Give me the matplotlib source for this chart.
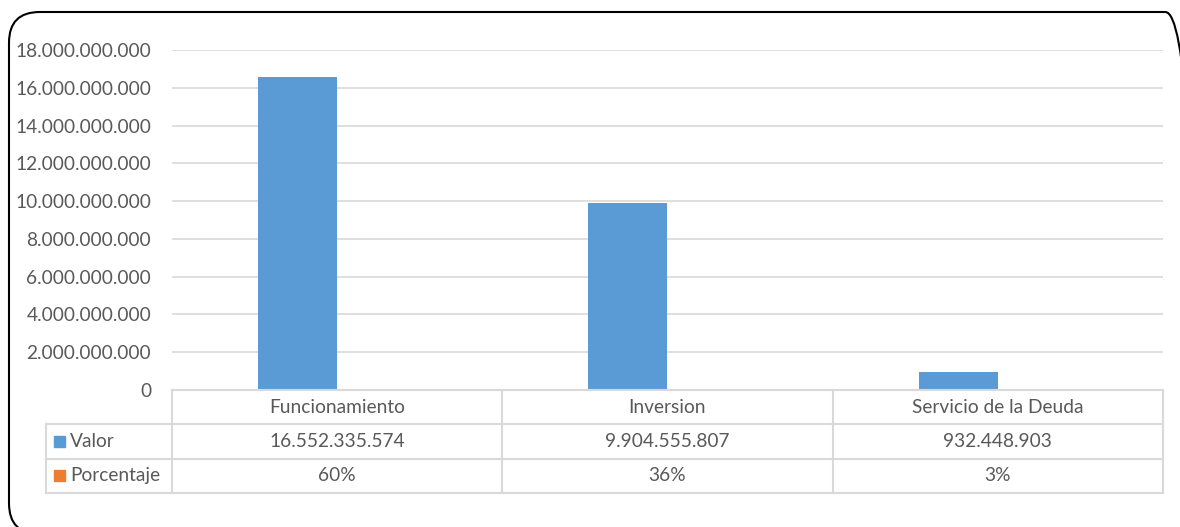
import matplotlib
matplotlib.use("Agg")
import matplotlib.pyplot as plt
from matplotlib.patches import FancyBboxPatch, Rectangle
import numpy as np

categories = ["Funcionamiento", "Inversion", "Servicio de la Deuda"]
valor = [16552335574, 9904555807, 932448903]
porcentaje = [0.60, 0.36, 0.03]
series_names = ["Valor", "Porcentaje"]
yticks = [0, 2e9, 4e9, 6e9, 8e9, 10e9, 12e9, 14e9, 16e9, 18e9]

BLUE = "#5B9BD5"
ORANGE = "#ED7D31"
GRID = "#D9D9D9"
TXT = "#595959"
FONT = "Lato"
FS = 13.8

W, H = 1180, 527
fig = plt.figure(figsize=(W / 100, H / 100), dpi=100)
plt.rcParams['font.family'] = [FONT, 'DejaVu Sans']

def fx(px):
    return px / W

def fy(py):
    return 1 - py / H

# rounded frame (extends past right and bottom edges, as in the reference)
frame = FancyBboxPatch((fx(9), fy(534)), fx(1196) - fx(9), fy(12) - fy(534),
                       boxstyle="round,pad=0,rounding_size=0.026",
                       transform=fig.transFigure, facecolor="none",
                       edgecolor="black", linewidth=1.5, mutation_aspect=W / H,
                       zorder=10, clip_on=False)
fig.patches.append(frame)

# main axes
L, R, T, B = 172, 1163, 50, 390
ax = fig.add_axes([fx(L), fy(B), fx(R) - fx(L), fy(T) - fy(B)])
ax.set_facecolor("none")
x = np.arange(len(categories))
w = 0.24
ax.bar(x - w / 2, valor, width=w, color=BLUE, zorder=3)
ax.bar(x + w / 2, porcentaje, width=w, color=ORANGE, zorder=3)
ax.set_xlim(-0.5, len(categories) - 0.5)
ax.set_ylim(0, 18e9)
ax.set_yticks(yticks)
ax.set_yticklabels([f"{int(v):,}".replace(",", ".") for v in yticks],
                   fontsize=FS, color=TXT, family=FONT)
ax.tick_params(axis="y", length=0, pad=15)
ax.set_xticks([])
for s in ax.spines.values():
    s.set_visible(False)
ax.yaxis.grid(True, color=GRID, linewidth=1.2, zorder=0)

# data table axes
TL, TT, TB = 46, 390, 493
unit = (R - L) / len(categories)
left_ext = -0.5 - (L - TL) / unit
tax = fig.add_axes([fx(TL), fy(TB), fx(R) - fx(TL), fy(TT) - fy(TB)])
tax.set_xlim(left_ext, len(categories) - 0.5)
tax.set_ylim(3, 0)
tax.axis("off")
lw = 1.5
tax.plot([-0.5, len(categories) - 0.5], [0, 0], color=GRID, lw=lw, clip_on=False)
for yy in [1, 2, 3]:
    tax.plot([left_ext, len(categories) - 0.5], [yy, yy], color=GRID, lw=lw, clip_on=False)
tax.plot([left_ext, left_ext], [1, 3], color=GRID, lw=lw, clip_on=False)
for xx in np.arange(len(categories) + 1) - 0.5:
    tax.plot([xx, xx], [0, 3], color=GRID, lw=lw, clip_on=False)
for i, c in enumerate(categories):
    tax.text(i, 0.5, c, ha="center", va="center", fontsize=FS, color=TXT)
    tax.text(i, 1.5, f"{valor[i]:,}".replace(",", "."), ha="center", va="center",
             fontsize=FS, color=TXT)
    tax.text(i, 2.5, f"{round(porcentaje[i] * 100)}%", ha="center", va="center",
             fontsize=FS, color=TXT)
for r, (name, col) in enumerate(zip(series_names, [BLUE, ORANGE])):
    sq_px = 11
    tax.add_patch(Rectangle((left_ext + (54 - TL) / unit, 1.5 + r - 0.5 * sq_px / 34),
                            sq_px / unit, sq_px / 34, color=col, clip_on=False))
    tax.text(left_ext + (70 - TL) / unit, 1.5 + r, name, ha="left", va="center",
             fontsize=FS, color=TXT)

fig.savefig("out.png", dpi=100)
